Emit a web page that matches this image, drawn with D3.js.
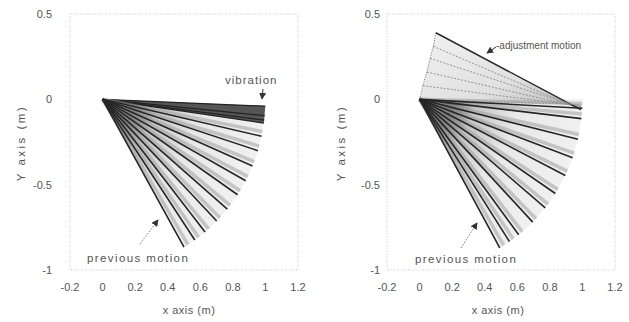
<!DOCTYPE html>
<html>
<head>
<meta charset="utf-8">
<script src="https://cdn.jsdelivr.net/npm/d3@7"></script>
<style>
  body { margin: 0; background: #fff; }
  text { font-family: "Liberation Sans", Arial, sans-serif; fill: #555; }
</style>
</head>
<body>
<svg id="chart" width="629" height="322"></svg>
<script>
// axis ticks
const xTicks = [-0.2, 0, 0.2, 0.4, 0.6, 0.8, 1, 1.2];
const xTickLabels = ["-0.2", "0", "0.2", "0.4", "0.6", "0.8", "1", "1.2"];
const yTicks = [0.5, 0, -0.5, -1];
const yTickLabels = ["0.5", "0", "-0.5", "-1"];

// link angles (deg) of the plotted frames of the previous motion
const prevAnglesLeft = [-12.5, -17.5, -23, -28.5, -34, -40, -45.5, -51, -55.5, -60];
const prevAnglesRight = [-3, -6.5, -13.5, -20, -26.5, -33.5, -39.5, -46, -52.5, -56.5, -60.5];

// vibration at the end of the motion (left plot)
const vibrationBand = [-2.3, -8];
const vibrationLines = [-2.3, -5.5, -7, -8];

// adjustment motion (right plot): link base points and tip points
const adjustBaseX = [0, 0.02, 0.045, 0.065, 0.085, 0.1];
const adjustBaseY = [0, 0.08, 0.16, 0.24, 0.31, 0.39];
const adjustTipX = [0.99, 0.99, 1, 0.99, 0.99, 0.99];
const adjustTipY = [-0.03, -0.04, -0.05, -0.05, -0.06, -0.06];

const linkLength = 1;

const svg = d3.select("#chart");
svg.append("rect").attr("width", 629).attr("height", 322).attr("fill", "#fff");

const defs = svg.append("defs");
defs.append("marker")
    .attr("id", "arrow")
    .attr("viewBox", "0 0 8 8")
    .attr("refX", 7).attr("refY", 4)
    .attr("markerWidth", 7).attr("markerHeight", 7)
    .attr("markerUnits", "userSpaceOnUse")
    .attr("orient", "auto")
  .append("path")
    .attr("d", "M0,0 L8,4 L0,8 Z")
    .attr("fill", "#333");

const W = 228;
const plotTop = 14;
const plotBottom = 270;

const panels = [
    {left: 70, yPad: 18, yLabelX: 21, xLabelShift: 5, prev: prevAnglesLeft, vibration: true,
     prevText: [87, 262], prevArrow: [[140, 244], [158, 220]]},
    {left: 387, yPad: 7, yLabelX: 341, xLabelShift: -3, prev: prevAnglesRight, adjust: true,
     prevText: [415, 263], prevArrow: [[461, 248], [477, 223]]}
];

const rad = a => a * Math.PI / 180;

panels.forEach((p, i) => {

    const x = d3.scaleLinear().domain([-0.2, 1.2]).range([p.left, p.left + W]);
    const y = d3.scaleLinear().domain([-1, 0.5]).range([plotBottom, plotTop]);
    const tip = a => [x(linkLength * Math.cos(rad(a))), y(linkLength * Math.sin(rad(a)))];
    const shift = (a, d) => tip(a + d);
    const x0 = x(0), y0 = y(0);

    const g = svg.append("g");

    // dotted frame
    g.append("rect")
        .attr("x", p.left).attr("y", plotTop)
        .attr("width", W).attr("height", plotBottom - plotTop)
        .attr("fill", "none")
        .attr("stroke", "#bbb")
        .attr("stroke-width", 0.8)
        .attr("stroke-dasharray", "1,1.5");

    // tick labels
    g.selectAll(".xt")
        .data(xTicks)
        .join("text")
            .attr("x", d => x(d))
            .attr("y", 291)
            .attr("text-anchor", "middle")
            .attr("font-size", 11)
            .text((d, k) => xTickLabels[k]);

    g.selectAll(".yt")
        .data(yTicks)
        .join("text")
            .attr("x", p.left - p.yPad)
            .attr("y", d => y(d) + 4)
            .attr("text-anchor", "end")
            .attr("font-size", 11)
            .text((d, k) => yTickLabels[k]);

    g.append("text")
        .attr("x", p.left + W / 2 + p.xLabelShift)
        .attr("y", 314)
        .attr("text-anchor", "middle")
        .attr("font-size", 11)
        .attr("letter-spacing", 0.5)
        .text("x axis (m)");

    g.append("text")
        .attr("transform", `translate(${p.yLabelX + 4},143) rotate(-90)`)
        .attr("text-anchor", "middle")
        .attr("font-size", 11.5)
        .attr("letter-spacing", 2.5)
        .text("Y axis (m)");

    // shaded sweep of the previous motion
    const grad = defs.append("radialGradient")
        .attr("id", "fan" + i)
        .attr("gradientUnits", "userSpaceOnUse")
        .attr("cx", x0).attr("cy", y0)
        .attr("r", x(1) - x0);
    grad.append("stop").attr("offset", 0).attr("stop-color", "#484848");
    grad.append("stop").attr("offset", 0.2).attr("stop-color", "#6a6a6a");
    grad.append("stop").attr("offset", 0.34).attr("stop-color", "#c4c4c4");
    grad.append("stop").attr("offset", 0.6).attr("stop-color", "#e8e8e8");
    grad.append("stop").attr("offset", 1).attr("stop-color", "#f0f0f0");

    const fanAngles = p.vibration ? [vibrationBand[0]].concat(p.prev) : [0].concat(p.prev);
    g.append("path")
        .attr("d", d3.line()([[x0, y0]].concat(fanAngles.map(tip))) + "Z")
        .attr("fill", `url(#fan${i})`);

    if (p.adjust) {
        const lg = defs.append("linearGradient")
            .attr("id", "adj" + i)
            .attr("x1", 0).attr("y1", 0).attr("x2", 1).attr("y2", 1);
        lg.append("stop").attr("offset", 0).attr("stop-color", "#f2f2f2");
        lg.append("stop").attr("offset", 0.6).attr("stop-color", "#e0e0e0");
        lg.append("stop").attr("offset", 1).attr("stop-color", "#b8b8b8");

        const n = adjustBaseX.length - 1;
        g.append("path")
            .attr("d", d3.line()([
                [x0, y0],
                [x(adjustBaseX[n]), y(adjustBaseY[n])],
                [x(adjustTipX[n]), y(adjustTipY[n])],
                [x(adjustTipX[0]), y(adjustTipY[0])]
            ]) + "Z")
            .attr("fill", `url(#adj${i})`);

        // stippled left edge of the sweep
        g.append("path")
            .attr("d", d3.line()(adjustBaseX.map((d, k) => [x(d), y(adjustBaseY[k])])))
            .attr("fill", "none")
            .attr("stroke", "#777")
            .attr("stroke-dasharray", "1,1.5");

        g.selectAll(".adj")
            .data(adjustBaseX)
            .join("line")
                .attr("x1", d => x(d))
                .attr("y1", (d, k) => y(adjustBaseY[k]))
                .attr("x2", (d, k) => x(adjustTipX[k]))
                .attr("y2", (d, k) => y(adjustTipY[k]))
                .attr("stroke", (d, k) => k === n ? "#2a2a2a" : "#8a8a8a")
                .attr("stroke-width", (d, k) => k === n ? 1.5 : 0.9)
                .attr("stroke-dasharray", (d, k) => k === n ? null : "2,1.5");
    }

    if (p.vibration) {
        g.append("path")
            .attr("d", d3.line()([[x0, y0], tip(vibrationBand[0]), tip(vibrationBand[1])]) + "Z")
            .attr("fill", "#555");
        g.selectAll(".vib")
            .data(vibrationLines)
            .join("line")
                .attr("x1", x0).attr("y1", y0)
                .attr("x2", d => tip(d)[0])
                .attr("y2", d => tip(d)[1])
                .attr("stroke", "#222")
                .attr("stroke-width", 1.3);
    }

    // grey trailing band beside each frame
    g.selectAll(".shade")
        .data(p.prev)
        .join("line")
            .attr("x1", x0).attr("y1", y0)
            .attr("x2", d => shift(d, 1.6)[0])
            .attr("y2", d => shift(d, 1.6)[1])
            .attr("stroke", "#9a9a9a")
            .attr("stroke-width", 3.5)
            .attr("stroke-opacity", 0.5);

    // dark link lines
    g.selectAll(".link")
        .data(p.prev)
        .join("line")
            .attr("x1", x0).attr("y1", y0)
            .attr("x2", d => tip(d)[0])
            .attr("y2", d => tip(d)[1])
            .attr("stroke", "#262626")
            .attr("stroke-width", 1.6);

    // annotations
    g.append("text")
        .attr("x", p.prevText[0])
        .attr("y", p.prevText[1])
        .attr("font-size", 11.5)
        .attr("letter-spacing", 1.4)
        .text("previous motion");
    g.append("line")
        .attr("x1", p.prevArrow[0][0]).attr("y1", p.prevArrow[0][1])
        .attr("x2", p.prevArrow[1][0]).attr("y2", p.prevArrow[1][1])
        .attr("stroke", "#555")
        .attr("stroke-width", 0.8)
        .attr("stroke-dasharray", "1.5,1.5")
        .attr("marker-end", "url(#arrow)");

    if (p.vibration) {
        g.append("text")
            .attr("x", 225).attr("y", 84)
            .attr("font-size", 11.5)
            .attr("letter-spacing", 1)
            .text("vibration");
        g.append("line")
            .attr("x1", 263).attr("y1", 89)
            .attr("x2", 262).attr("y2", 99)
            .attr("stroke", "#333")
            .attr("marker-end", "url(#arrow)");
    }

    if (p.adjust) {
        g.append("text")
            .attr("x", 496).attr("y", 49)
            .attr("font-size", 10)
            .text("-adjustment motion");
        g.append("line")
            .attr("x1", 496).attr("y1", 47)
            .attr("x2", 487).attr("y2", 53)
            .attr("stroke", "#333")
            .attr("marker-end", "url(#arrow)");
    }
});
</script>
</body>
</html>
